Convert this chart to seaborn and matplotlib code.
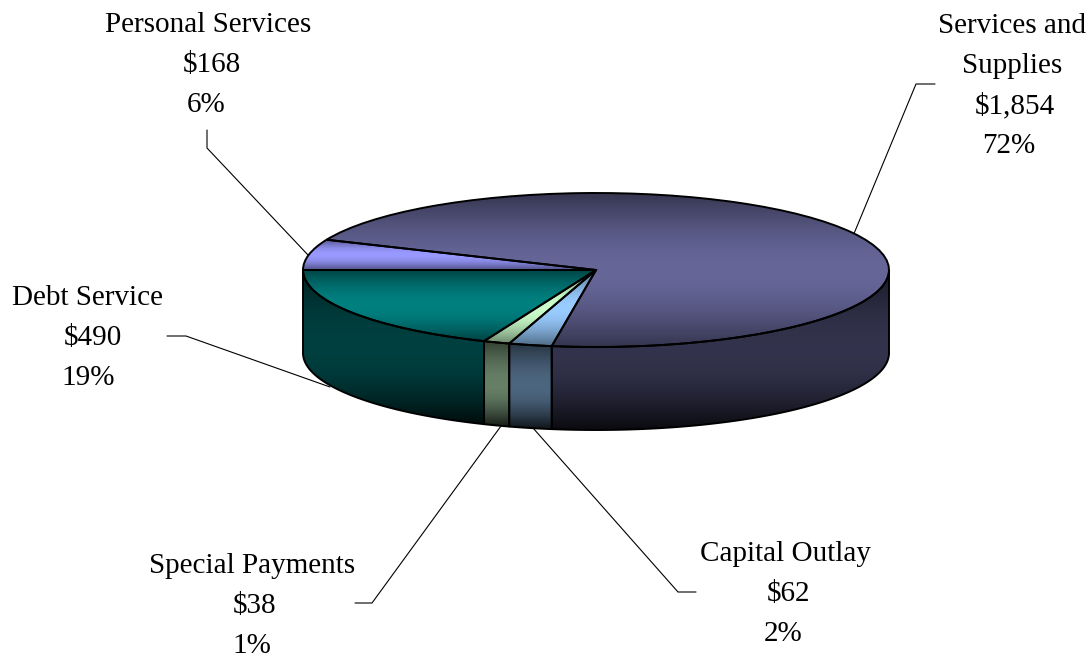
import numpy as np
import matplotlib
matplotlib.use("Agg")
import matplotlib.pyplot as plt
from matplotlib.patches import Polygon
import seaborn as sns

# Data (starting at the left edge, going counter-clockwise on screen)
categories = ["Debt Service", "Special Payments", "Capital Outlay", "Services and\nSupplies", "Personal Services"]
amounts = [490, 38, 62, 1854, 168]
percents = ["19%", "1%", "2%", "72%", "6%"]
slice_colors = ["#008080", "#CCFFCC", "#99CCFF", "#666699", "#9999FF"]

sns.set_theme(style="white")
plt.rcParams["font.family"] = ["Liberation Serif", "DejaVu Serif"]

W, H = 1088, 659
CX, CY, RX, RY, DEPTH = 596, 270, 293, 77, 83
depth = DEPTH / RY
fig = plt.figure(figsize=(W / 100, H / 100), dpi=100, facecolor="white")

# label layer in pixel coordinates
lab = fig.add_axes([0, 0, 1, 1])
lab.set_xlim(0, W)
lab.set_ylim(H, 0)
lab.axis("off")

# pie layer: unit circle is stretched to the ellipse
ax = fig.add_axes([0, 0, 1, 1], zorder=2)
ax.patch.set_alpha(0)
palette = sns.color_palette(slice_colors)
wedges, _ = ax.pie(amounts, startangle=180, counterclock=True, colors=palette,
                   wedgeprops=dict(edgecolor="black", linewidth=1.4))
ax.set_aspect("auto")


def ramp(color, edge_top, mid, edge_bottom, n=256):
    t = np.linspace(0, 1, n)
    s = np.sin(np.pi * t)  # rounded profile, flat around the middle
    base = np.where(t < 0.5, edge_top, edge_bottom)
    f = base + (mid - base) * s
    return np.array(color)[None, None, :] * f[:, None, None]


fractions = np.cumsum([0] + amounts) / sum(amounts)
angles = 180 + 360 * fractions
extent_x = (-1.02, 1.02)

for i, w in enumerate(wedges):
    a0, a1 = angles[i], angles[i + 1]
    th = np.radians(np.linspace(a0, a1, 200))
    ys = np.r_[np.sin(th), 0]
    img = ramp(palette[i], 0.52, 1.0, 0.52)
    im = ax.imshow(img, extent=(extent_x[0], extent_x[1], ys.min(), ys.max()),
                   origin="upper", aspect="auto", zorder=2, interpolation="bilinear")
    im.set_clip_path(w)
    w.set_facecolor("none")
    w.set_zorder(3)

    # visible outer wall (front half of the disc only)
    lo, hi = max(a0, 180), min(a1, 360)
    if lo < hi:
        th = np.radians(np.linspace(lo, hi, 200))
        x, y = np.cos(th), np.sin(th)
        pts = np.c_[np.r_[x, x[::-1]], np.r_[y, y[::-1] - depth]]
        poly = Polygon(pts, closed=True, facecolor="none", edgecolor="black",
                       linewidth=1.4, zorder=3, joinstyle="round")
        ax.add_patch(poly)
        # gradient spans the bounding box of this wall
        img = ramp(palette[i], 0.25, 0.5, 0.1)
        im = ax.imshow(img, extent=(extent_x[0], extent_x[1], pts[:, 1].min(), pts[:, 1].max()),
                       origin="upper", aspect="auto", zorder=2, interpolation="bilinear")
        im.set_clip_path(poly)

ax.set_xlim((0 - CX) / RX, (W - CX) / RX)
ax.set_ylim((CY - H) / RY, CY / RY)
ax.axis("off")

# label layout: text centres per line, then leader polyline, all in pixels
line_gap = 40
layout = {
    "Debt Service": ([88, 93, 88], 298, [(167, 336), (186, 336), (330, 387)]),
    "Special Payments": ([252, 255, 252], 566, [(355, 603), (372, 603), (501, 426)]),
    "Capital Outlay": ([785, 789, 783], 554, [(696, 592), (678, 592), (533, 428)]),
    "Services and\nSupplies": ([1012, 1012, 1015, 1009], 26, [(935, 84), (916, 84), (853, 236)]),
    "Personal Services": ([208, 212, 206], 25, [(207, 130), (207, 148), (308, 255)]),
}

for name, amt, pct in zip(categories, amounts, percents):
    xs, y0, leader = layout[name]
    lines = name.split("\n") + [f"${amt:,}", pct]
    for k, (tx, line) in enumerate(zip(xs, lines)):
        lab.text(tx, y0 + k * line_gap, line, ha="center", va="center",
                 fontsize=21, color="black")
    lx, ly = zip(*leader)
    lab.plot(lx, ly, color="black", linewidth=0.8, solid_joinstyle="miter")

fig.savefig("out.png", dpi=100, facecolor="white")
